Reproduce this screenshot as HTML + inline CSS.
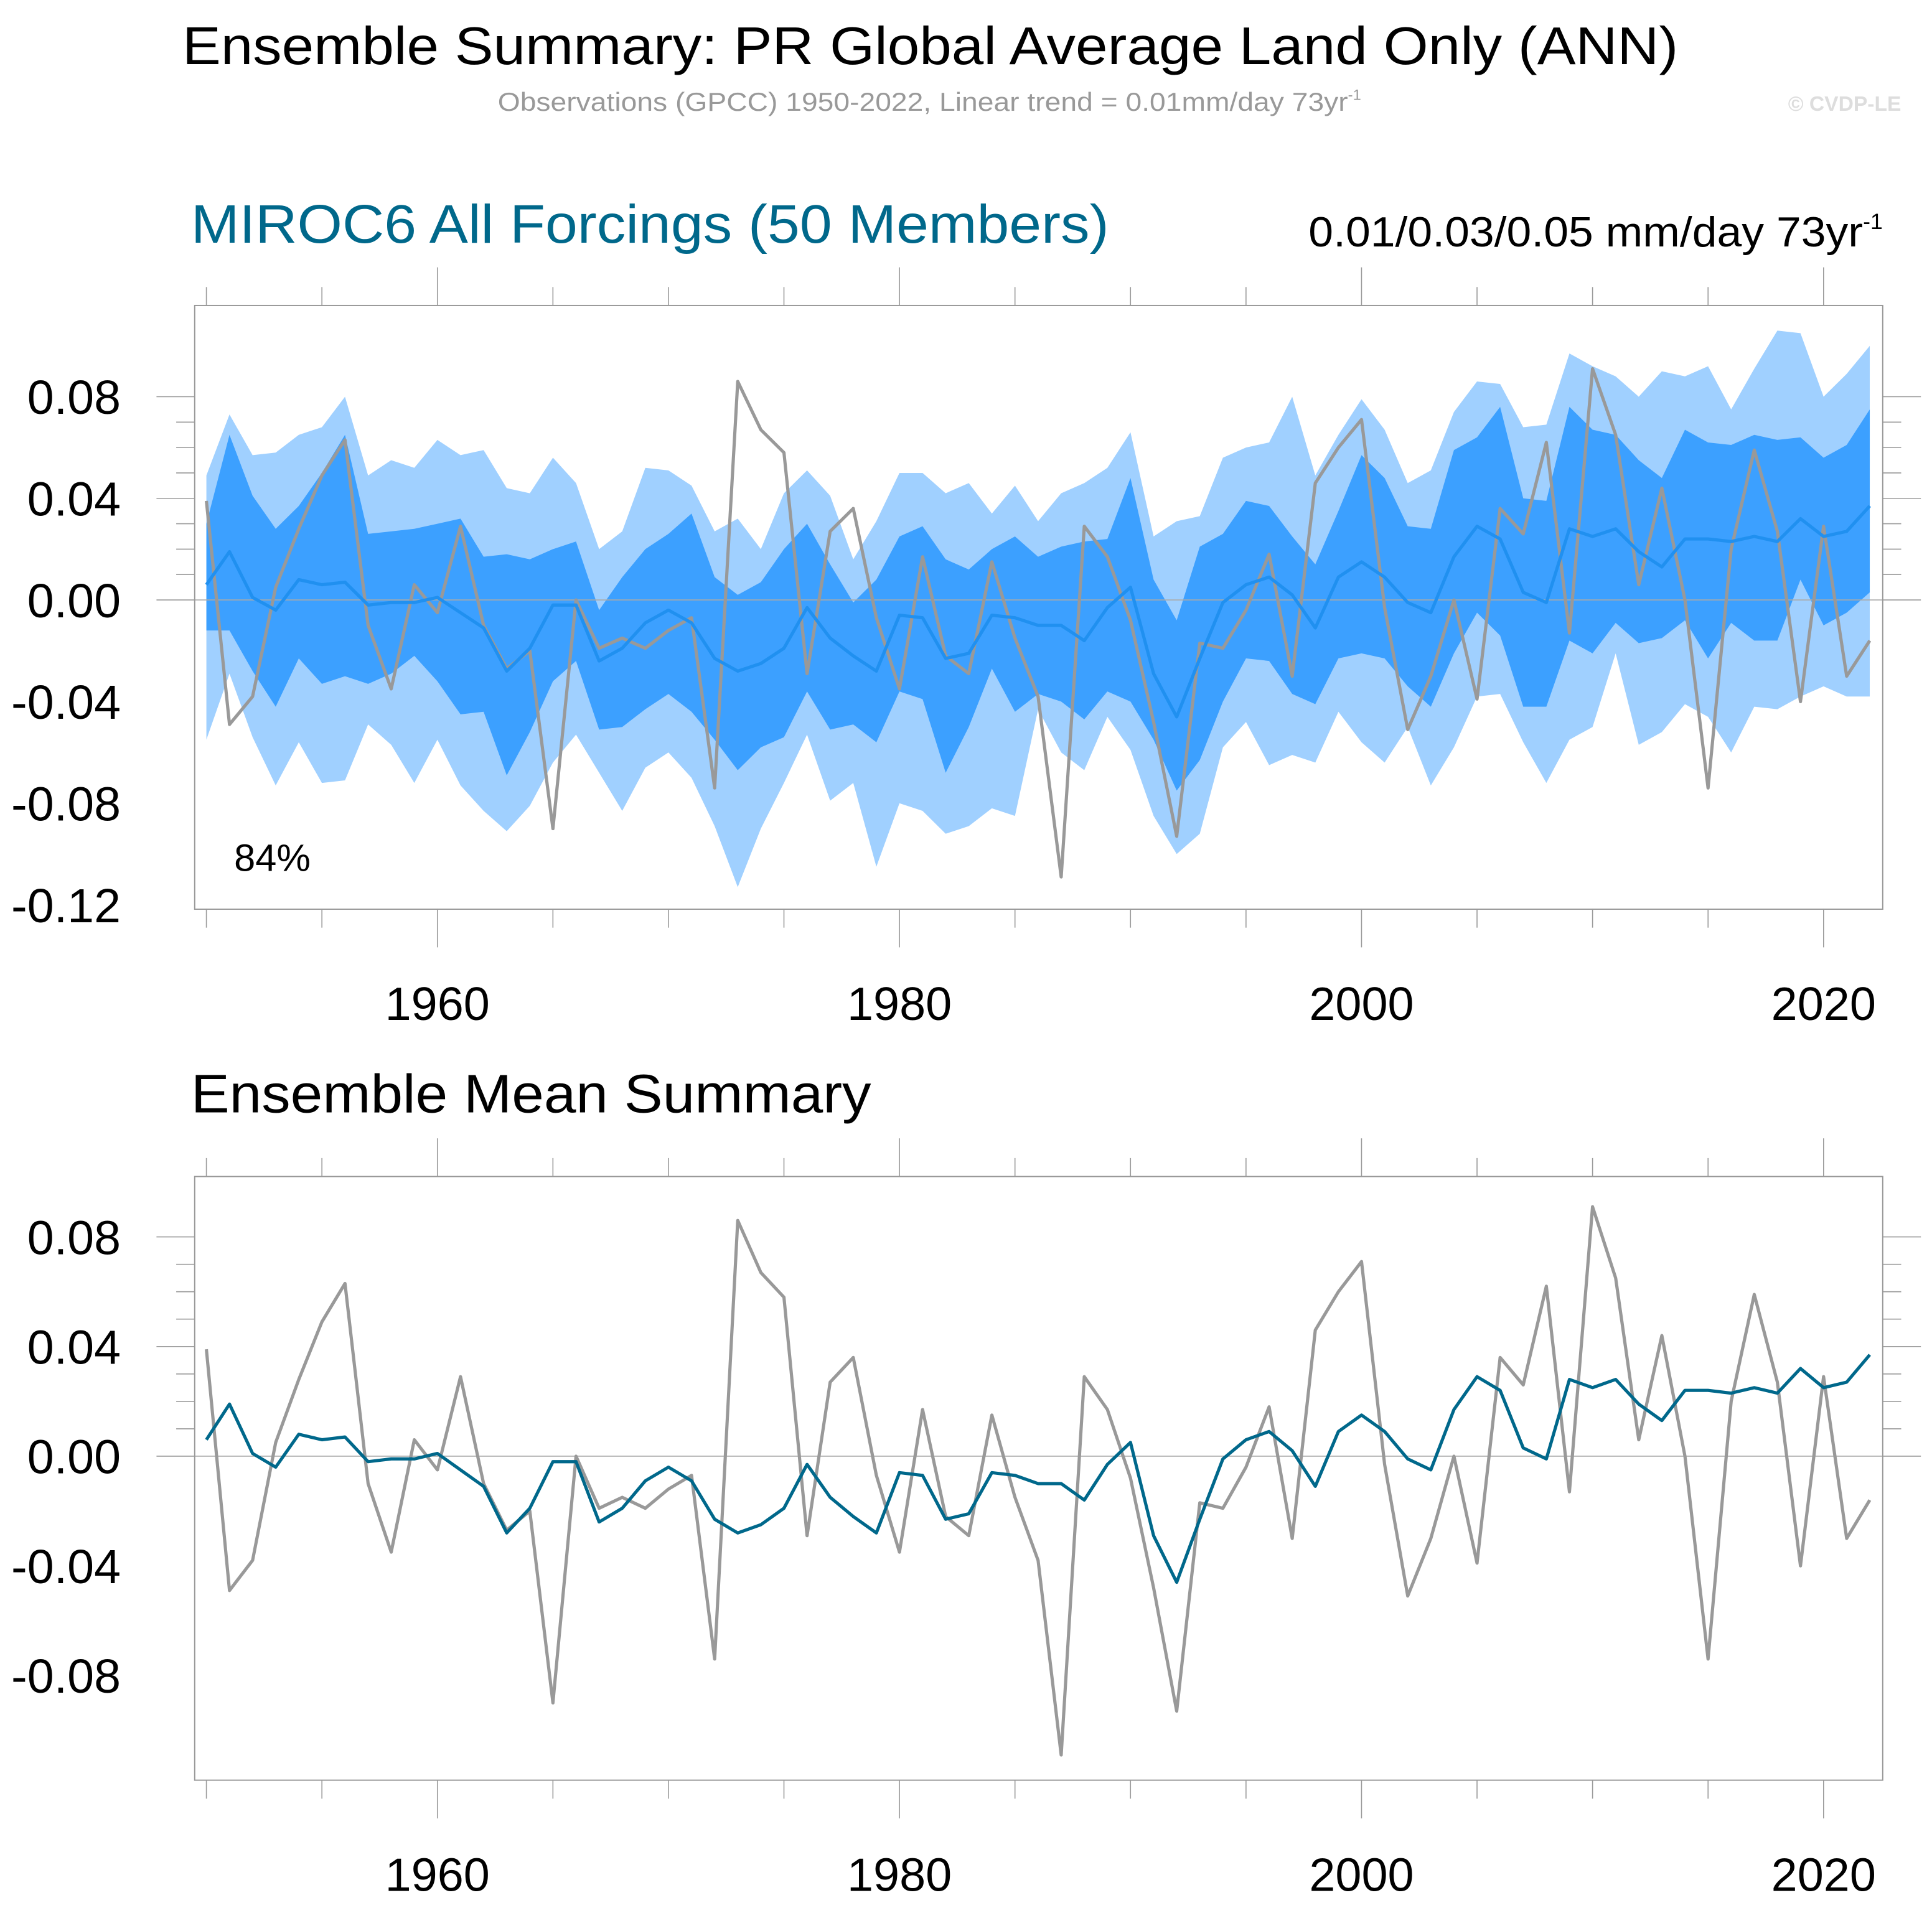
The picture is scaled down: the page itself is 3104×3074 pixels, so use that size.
<!DOCTYPE html>
<html><head><meta charset="utf-8"><style>
html,body{margin:0;padding:0;background:#fff;}
svg{display:block;}
text{font-family:"Liberation Sans",sans-serif;}
</style></head><body>
<svg id="chart" width="3104" height="3074" viewBox="0 0 1568 1552.8" preserveAspectRatio="none" xmlns="http://www.w3.org/2000/svg">
<text x="148" y="52" font-size="43" textLength="1214" lengthAdjust="spacingAndGlyphs" fill="#000">Ensemble Summary: PR Global Average Land Only (ANN)</text>
<text x="404" y="90" font-size="21" fill="#999"><tspan textLength="690" lengthAdjust="spacingAndGlyphs">Observations (GPCC) 1950-2022, Linear trend = 0.01mm/day 73yr</tspan><tspan font-size="12" dy="-9">-1</tspan></text>
<text x="1543" y="90" font-size="17" font-weight="bold" text-anchor="end" fill="#ddd">© CVDP-LE</text>
<text x="155" y="197" font-size="44" textLength="745" lengthAdjust="spacingAndGlyphs" fill="#00688b">MIROC6 All Forcings (50 Members)</text>
<text x="1062" y="200" font-size="34" fill="#000"><tspan textLength="450" lengthAdjust="spacingAndGlyphs">0.01/0.03/0.05 mm/day 73yr</tspan><tspan font-size="18" dy="-14">-1</tspan></text>
<text x="155" y="903" font-size="44" textLength="552" lengthAdjust="spacingAndGlyphs" fill="#000">Ensemble Mean Summary</text>
<g id="p1"></g><g id="p2"></g>
</svg>
<script>
const years=[];for(let y=1950;y<=2022;y++)years.push(y);
const obs=[0.039,-0.049,-0.038,0.005,0.028,0.049,0.063,-0.010,-0.035,0.006,-0.005,0.029,-0.010,-0.027,-0.020,-0.090,0.000,-0.019,-0.015,-0.019,-0.012,-0.007,-0.074,0.086,0.067,0.058,-0.029,0.027,0.036,-0.007,-0.035,0.017,-0.022,-0.029,0.015,-0.015,-0.038,-0.109,0.029,0.017,-0.008,-0.048,-0.093,-0.017,-0.019,-0.004,0.018,-0.030,0.046,0.060,0.071,-0.003,-0.051,-0.030,0.000,-0.039,0.036,0.026,0.062,-0.013,0.091,0.065,0.006,0.044,0.000,-0.074,0.020,0.059,0.027,-0.040,0.029,-0.030,-0.016];
const ensMean=[0.006,0.019,0.001,-0.004,0.008,0.006,0.007,-0.002,-0.001,-0.001,0.001,-0.005,-0.011,-0.028,-0.019,-0.002,-0.002,-0.024,-0.019,-0.009,-0.004,-0.009,-0.023,-0.028,-0.025,-0.019,-0.003,-0.015,-0.022,-0.028,-0.006,-0.007,-0.023,-0.021,-0.006,-0.007,-0.010,-0.010,-0.016,-0.003,0.005,-0.029,-0.046,-0.023,-0.001,0.006,0.009,0.002,-0.011,0.009,0.015,0.009,-0.001,-0.005,0.017,0.029,0.024,0.003,-0.001,0.028,0.025,0.028,0.019,0.013,0.024,0.024,0.023,0.025,0.023,0.032,0.025,0.027,0.037];
const outerHi=[0.049,0.073,0.057,0.058,0.065,0.068,0.080,0.049,0.055,0.052,0.063,0.057,0.059,0.044,0.042,0.056,0.046,0.020,0.027,0.052,0.051,0.045,0.027,0.032,0.020,0.042,0.051,0.041,0.016,0.031,0.050,0.050,0.042,0.046,0.034,0.045,0.031,0.042,0.046,0.052,0.066,0.025,0.031,0.033,0.056,0.060,0.062,0.080,0.049,0.065,0.079,0.067,0.046,0.051,0.074,0.086,0.085,0.068,0.069,0.097,0.092,0.088,0.080,0.090,0.088,0.092,0.075,0.091,0.106,0.105,0.080,0.089,0.100];
const outerLo=[-0.055,-0.029,-0.054,-0.073,-0.056,-0.072,-0.071,-0.049,-0.057,-0.072,-0.055,-0.073,-0.083,-0.091,-0.081,-0.064,-0.053,-0.068,-0.083,-0.066,-0.060,-0.070,-0.089,-0.113,-0.090,-0.072,-0.053,-0.079,-0.072,-0.105,-0.080,-0.083,-0.092,-0.089,-0.082,-0.085,-0.043,-0.060,-0.067,-0.046,-0.059,-0.085,-0.100,-0.092,-0.058,-0.048,-0.065,-0.061,-0.064,-0.044,-0.056,-0.064,-0.050,-0.073,-0.058,-0.038,-0.037,-0.056,-0.072,-0.055,-0.050,-0.021,-0.057,-0.052,-0.041,-0.046,-0.060,-0.042,-0.043,-0.038,-0.034,-0.038,-0.038];
const innerHi=[0.030,0.065,0.041,0.028,0.037,0.050,0.065,0.026,0.027,0.028,0.030,0.032,0.017,0.018,0.016,0.020,0.023,-0.004,0.009,0.020,0.026,0.034,0.009,0.002,0.007,0.020,0.030,0.014,-0.001,0.008,0.025,0.029,0.016,0.012,0.020,0.025,0.017,0.021,0.023,0.024,0.048,0.008,-0.008,0.021,0.026,0.039,0.037,0.025,0.014,0.035,0.057,0.048,0.029,0.028,0.059,0.064,0.076,0.040,0.039,0.076,0.067,0.065,0.055,0.048,0.067,0.062,0.061,0.065,0.063,0.064,0.056,0.061,0.075];
const innerLo=[-0.012,-0.012,-0.028,-0.042,-0.023,-0.033,-0.030,-0.033,-0.029,-0.022,-0.032,-0.045,-0.044,-0.069,-0.052,-0.032,-0.024,-0.051,-0.050,-0.043,-0.037,-0.044,-0.055,-0.067,-0.058,-0.054,-0.036,-0.051,-0.049,-0.056,-0.036,-0.039,-0.068,-0.050,-0.027,-0.044,-0.037,-0.040,-0.047,-0.036,-0.040,-0.055,-0.075,-0.063,-0.040,-0.023,-0.024,-0.037,-0.041,-0.023,-0.021,-0.023,-0.034,-0.042,-0.021,-0.005,-0.014,-0.042,-0.042,-0.016,-0.021,-0.009,-0.017,-0.015,-0.008,-0.023,-0.009,-0.016,-0.016,0.008,-0.010,-0.005,0.003];
const xTickLabels=[1960,1980,2000,2020];
const yTicks1=["0.08","0.04","0.00","-0.04","-0.08","-0.12"];
const yTicks2=["0.08","0.04","0.00","-0.04","-0.08"];
const NS="http://www.w3.org/2000/svg";
function mk(parent,tag,attrs){const e=document.createElementNS(NS,tag);for(const k in attrs)e.setAttribute(k,attrs[k]);parent.appendChild(e);return e;}
function panel(g,box,yr,yTicks,isTop){
  const X=y=>box.x0+(y-1950)/72*(box.xe-box.x0);
  const Y=v=>box.y0+(yr[1]-v)/(yr[1]-yr[0])*(box.y1ref-box.y0);
  mk(g,'rect',{x:box.l,y:box.t,width:box.r-box.l,height:box.b-box.t,fill:'#fff'});
  if(isTop){
    const band=(hi,lo,col,nm)=>{let d='';years.forEach((y,i)=>d+=(i?'L':'M')+X(y)+','+Y(hi[i]));for(let i=years.length-1;i>=0;i--)d+='L'+X(years[i])+','+Y(lo[i]);const p=mk(g,'path',{d:d+'Z',fill:col});
      
      };
    band(outerHi,outerLo,'#a0d0ff','outer-spread-band');
    band(innerHi,innerLo,'#3ca0ff','inner-spread-band');
  }
  const z=mk(g,'line',{x1:box.l,x2:box.r,y1:Y(0),y2:Y(0),stroke:'#aaa','stroke-width':0.8});
  
  
  const line=(arr,col,nm)=>{const p=mk(g,'path',{d:years.map((y,i)=>(i?'L':'M')+X(y)+','+Y(arr[i])).join(''),fill:'none',stroke:col,'stroke-width':2.6,'stroke-linejoin':'round'});
    
    };
  line(obs,'#999999','observations-line');
  line(ensMean,isTop?'#2090f0':'#00688b','ensemble-mean-line');
  const fr=mk(g,'rect',{x:box.l,y:box.t,width:box.r-box.l,height:box.b-box.t,fill:'none',stroke:'#999','stroke-width':1});
  
  
  for(let y=1950;y<=2022;y+=5){const maj=y%20===0;const L=maj?31:15;
    mk(g,'line',{x1:X(y),x2:X(y),y1:box.b,y2:box.b+L,stroke:'#999','stroke-width':0.8});
    mk(g,'line',{x1:X(y),x2:X(y),y1:box.t,y2:box.t-L,stroke:'#999','stroke-width':0.8});}
  xTickLabels.forEach(y=>{const t=mk(g,'text',{x:X(y),y:box.b+90,'font-size':38,'text-anchor':'middle',textLength:85,lengthAdjust:'spacingAndGlyphs'});t.textContent=y;
    
    });
  for(let v=Math.ceil(yr[0]*100-1e-6);v<=Math.floor(yr[1]*100+1e-6);v++){const yy=Y(v/100);if(yy<box.t-0.5||yy>box.b+0.5)continue;const maj=v%4===0;const L=maj?31:15;
    mk(g,'line',{x1:box.l,x2:box.l-L,y1:yy,y2:yy,stroke:'#999','stroke-width':0.8});
    mk(g,'line',{x1:box.r,x2:box.r+L,y1:yy,y2:yy,stroke:'#999','stroke-width':0.8});}
  yTicks.forEach(s=>{const t=mk(g,'text',{x:98,y:Y(parseFloat(s))+14,'font-size':39,'text-anchor':'end'});t.textContent=s;
    
    });
}
const g1=document.getElementById('p1');


panel(g1,{l:158,r:1528,t:248,b:738,x0:167.5,xe:1517.5,y0:322,y1ref:487},[0,0.08],yTicks1,true);
const p=mk(g1,'text',{x:190,y:707,'font-size':31});p.textContent='84%';


const g2=document.getElementById('p2');


panel(g2,{l:158,r:1528,t:955,b:1445,x0:167.5,xe:1517.5,y0:1004,y1ref:1182},[0,0.08],yTicks2,false);
</script>
</body></html>
